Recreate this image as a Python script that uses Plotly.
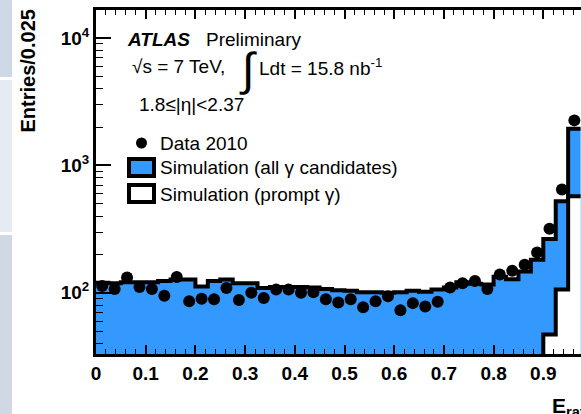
import plotly.graph_objects as go

# ---------------- data ----------------
bin_width = 0.025
bin_edges = [round(i * bin_width, 3) for i in range(40)]  # 0 .. 0.975

data_2010 = [113, 107, 132, 111, 107, 95, 133, 86, 90, 89,
             109, 88, 100, 91, 106, 106, 100, 101, 89, 84,
             89, 77, 86, 94, 73, 83, 78, 85, 110, 119,
             124, 107, 139, 149, 166, 207, 319, 647, 2259]

sim_all = [120, 119, 121, 121, 121, 124, 127, 127, 112, 124,
           127, 119, 119, 109, 111, 111, 111, 110, 107, 105,
           104, 101, 101, 100, 101, 104, 102, 106, 110, 121,
           118, 116, 134, 128, 147, 182, 265, 524, 1943]

# prompt photons: below the visible axis range except in the last bins (estimated)
sim_prompt = [3, 3, 3, 3, 3, 3, 3, 3, 3, 3,
              3, 3, 3, 3, 3, 3, 3, 3, 3, 3,
              4, 4, 4, 4, 5, 5, 6, 6, 7, 8,
              9, 10, 12, 14, 18, 25, 47, 106, 573]

bin_centers = [e + bin_width / 2 for e in bin_edges[:-1]]

y_tick_vals = [100, 1000, 10000]
y_tick_text = ["10<sup>2</sup>", "10<sup>3</sup>", "10<sup>4</sup>"]
x_tick_vals = [0, 0.1, 0.2, 0.3, 0.4, 0.5, 0.6, 0.7, 0.8, 0.9]
x_tick_text = ["0", "0.1", "0.2", "0.3", "0.4", "0.5", "0.6", "0.7", "0.8", "0.9"]
y_minor_vals = [m * 10 ** d for d in (1, 2, 3, 4) for m in range(2, 10)]

# ---------------- layout geometry ----------------
W, H = 581, 414
L, R, T, B = 96, 0, 10, 60
PW, PH = W - L - R, H - T - B
FONT = "Liberation Sans, Arial, sans-serif"
BLUE = "#3399ff"


def px(x):
    return (x - L) / PW


def py(y):
    return (H - B - y) / PH


def step(values):
    xs = list(bin_edges)
    ys = list(values) + [values[-1]]
    return xs, ys


fig = go.Figure()

xa, ya = step(sim_all)
fig.add_trace(go.Scatter(x=xa, y=ya, mode="lines", line=dict(shape="hv", color="black", width=4),
                         fill="tozeroy", fillcolor=BLUE, showlegend=False, hoverinfo="skip"))
xp, yp = step(sim_prompt)
fig.add_trace(go.Scatter(x=xp, y=yp, mode="lines", line=dict(shape="hv", color="black", width=4),
                         fill="tozeroy", fillcolor="white", showlegend=False, hoverinfo="skip"))
fig.add_trace(go.Scatter(x=bin_centers, y=data_2010, mode="markers",
                         marker=dict(color="black", size=12, symbol="circle"),
                         showlegend=False, cliponaxis=False))

x_right = (W - L) / 497.0  # 0.1 units span ~49.7 px

fig.update_layout(
    width=W, height=H,
    margin=dict(l=L, r=R, t=T, b=B),
    paper_bgcolor="white", plot_bgcolor="white",
    font=dict(family=FONT, color="black"),
    showlegend=False,
    xaxis=dict(range=[0, x_right], showgrid=False, zeroline=False,
               showline=True, linecolor="black", linewidth=3, mirror="ticks",
               ticks="inside", ticklen=9, tickwidth=1.5, tickcolor="black",
               tickvals=x_tick_vals, ticktext=x_tick_text,
               tickfont=dict(family=FONT, size=19, weight="bold", color="black"),
               minor=dict(ticks="inside", ticklen=5, tickwidth=1.2, tickcolor="black", dtick=0.02, showgrid=False)),
    yaxis=dict(type="log", range=[1.5197, 4.2205], showgrid=False, zeroline=False,
               showline=True, linecolor="black", linewidth=3, mirror=False,
               ticks="inside", ticklen=15, tickwidth=1.5, tickcolor="black",
               tickvals=y_tick_vals, ticktext=y_tick_text,
               tickfont=dict(family=FONT, size=19, weight="bold", color="black"),
               minor=dict(ticks="inside", ticklen=7, tickwidth=1.2, tickcolor="black",
                          tickvals=y_minor_vals, showgrid=False)),
)

shapes = []
# left window strip
shapes.append(dict(type="rect", xref="paper", yref="paper", x0=px(0), x1=px(12), y0=py(0), y1=py(77),
                   fillcolor="#cfd8e6", line=dict(width=0), layer="above"))
shapes.append(dict(type="rect", xref="paper", yref="paper", x0=px(0), x1=px(12), y0=py(80), y1=py(232),
                   fillcolor="#e6eaf3", line=dict(width=0), layer="above"))
shapes.append(dict(type="rect", xref="paper", yref="paper", x0=px(0), x1=px(12), y0=py(235), y1=py(414),
                   fillcolor="#d0d7e5", line=dict(width=0), layer="above"))
# legend symbols
shapes.append(dict(type="circle", xref="paper", yref="paper", x0=px(136), x1=px(147), y0=py(137.5), y1=py(148.5),
                   fillcolor="black", line=dict(width=0), layer="above"))
shapes.append(dict(type="rect", xref="paper", yref="paper", x0=px(129), x1=px(154), y0=py(159), y1=py(176),
                   fillcolor=BLUE, line=dict(color="black", width=4), layer="above"))
shapes.append(dict(type="rect", xref="paper", yref="paper", x0=px(129), x1=px(154), y0=py(185), y1=py(202),
                   fillcolor="white", line=dict(color="black", width=4), layer="above"))
fig.update_layout(shapes=shapes)


def ann(text, x, y, size=19, xanchor="left", yanchor="middle", **kw):
    fig.add_annotation(text=text, x=px(x), y=py(y), xref="paper", yref="paper",
                       xanchor=xanchor, yanchor=yanchor, showarrow=False,
                       font=dict(family=FONT, size=size, color="black"), **kw)


ann("<b><i>ATLAS</i></b>", 125, 39)
ann("Preliminary", 204, 39)
ann("√s = 7 TeV,", 130, 67)
ann("∫", 237, 69, size=46)
ann("Ldt = 15.8 nb<sup>-1</sup>", 257, 67)
ann("1.8≤|η|<2.37", 137, 104)
ann("Data 2010", 158, 143)
ann("Simulation (all γ candidates)", 158, 167)
ann("Simulation (prompt γ)", 158, 194)
ann("<b>Entries/0.025</b>", 27, 8, size=20, xanchor="center", yanchor="top", textangle=-90)
ann("<b>E<sub>ratio</sub></b>", 550, 392, size=21, yanchor="top")

fig.write_html("out.html")
